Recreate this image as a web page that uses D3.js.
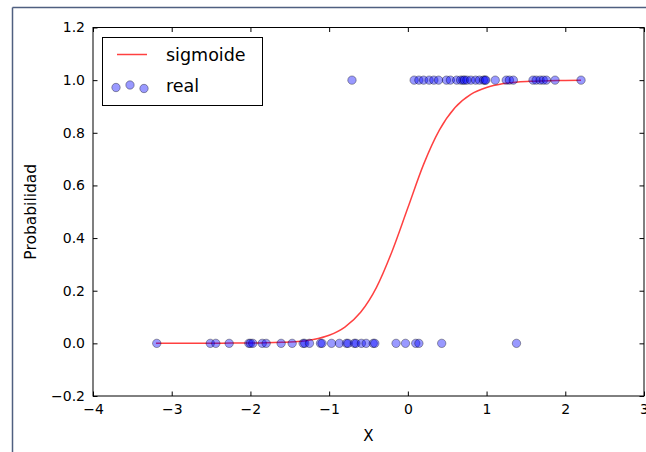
<!DOCTYPE html>
<html><head><meta charset="utf-8">
<script src="https://cdn.jsdelivr.net/npm/d3@7"></script>
<style>body{margin:0;background:#fff}svg{display:block}text{font-family:"DejaVu Sans",sans-serif;fill:#000}</style>
</head><body><svg id="c" width="646" height="452"></svg>
<script>
// data
const realX0 = [-3.19,-2.51,-2.44,-2.27,-2.02,-2.0,-1.97,-1.85,-1.80,-1.61,-1.47,-1.33,-1.31,-1.25,-1.11,-1.09,-0.97,-0.87,-0.78,-0.76,-0.68,-0.66,-0.59,-0.53,-0.44,-0.42,-0.15,-0.03,0.10,0.14,0.43,1.38];
const realX1 = [-0.71,0.08,0.14,0.20,0.27,0.33,0.39,0.49,0.54,0.62,0.67,0.70,0.72,0.75,0.80,0.86,0.91,0.96,0.98,0.99,1.11,1.25,1.29,1.34,1.59,1.63,1.68,1.72,1.76,1.87,2.20];
const curveX = [-3.2,-3.0,-2.6,-2.2,-2.0,-1.8,-1.6,-1.4,-1.2,-1.0,-0.8,-0.6,-0.4,-0.2,0,0.2,0.4,0.6,0.8,1.0,1.2,1.4,1.6,1.8,2.0,2.2];
const curveY = [0.000,0.000,0.000,0.001,0.001,0.002,0.004,0.007,0.015,0.031,0.062,0.118,0.212,0.350,0.515,0.680,0.810,0.896,0.946,0.972,0.986,0.993,0.996,0.998,0.999,0.9995];
const xTicks = [-4,-3,-2,-1,0,1,2,3];
const yTicks = [-0.2,0.0,0.2,0.4,0.6,0.8,1.0,1.2];

const svg = d3.select("#c");
const L=93, R=644, T=27.5, B=396;
const x = d3.scaleLinear().domain([-4,3]).range([L,R]);
const y = d3.scaleLinear().domain([-0.2,1.2]).range([B,T]);

// outer frame (notebook output border)
svg.append("line").attr("x1",12.5).attr("x2",12.5).attr("y1",7.5).attr("y2",452).attr("stroke","#4f5f80").attr("stroke-width",1.5);
svg.append("line").attr("x1",12.5).attr("x2",646).attr("y1",7.5).attr("y2",7.5).attr("stroke","#4f5f80").attr("stroke-width",1.5);

const g = svg.append("g");

// curve
const line = d3.line().x((d,i)=>x(curveX[i])).y(d=>y(d)).curve(d3.curveMonotoneX);
g.append("path").datum(curveY).attr("d",line).attr("fill","none").attr("stroke","#ff0000").attr("stroke-opacity",0.75).attr("stroke-width",1.5);

// scatter
const pts = realX0.map(v=>[v,0]).concat(realX1.map(v=>[v,1]));
g.selectAll("circle.p").data(pts).enter().append("circle")
  .attr("cx",d=>x(d[0])).attr("cy",d=>y(d[1])).attr("r",4.2)
  .attr("fill","#0000ff").attr("fill-opacity",0.4)
  .attr("stroke","#000").attr("stroke-opacity",0.35).attr("stroke-width",1);

// frame
g.append("rect").attr("x",L).attr("y",T).attr("width",R-L).attr("height",B-T).attr("fill","none").attr("stroke","#000").attr("stroke-width",1);

// axes with inward ticks
const xb = g.append("g").attr("transform",`translate(0,${B})`).call(d3.axisBottom(x).tickValues(xTicks).tickSizeInner(-4.5).tickSizeOuter(0).tickPadding(8).tickFormat(d=>d<0?"\u2212"+Math.abs(d):d));
const xt = g.append("g").attr("transform",`translate(0,${T})`).call(d3.axisTop(x).tickValues(xTicks).tickSizeInner(-4.5).tickSizeOuter(0).tickFormat(""));
const yl = g.append("g").attr("transform",`translate(${L},0)`).call(d3.axisLeft(y).tickValues(yTicks).tickSizeInner(-4.5).tickSizeOuter(0).tickPadding(8).tickFormat(d=>(d<0?"\u2212":"")+Math.abs(d).toFixed(1)));
const yr = g.append("g").attr("transform",`translate(${R},0)`).call(d3.axisRight(y).tickValues(yTicks).tickSizeInner(-4.5).tickSizeOuter(0).tickFormat(""));
[xb,xt,yl,yr].forEach(a=>{a.select(".domain").remove();a.selectAll("line").attr("stroke","#000");a.selectAll("text").attr("font-size",14).attr("font-family","DejaVu Sans").attr("fill","#000");});
xb.selectAll("text").attr("dy","0.71em");

// labels
svg.append("text").attr("x",(L+R)/2).attr("y",441).attr("text-anchor","middle").attr("font-size",15).text("X");
svg.append("text").attr("transform",`translate(36,${(T+B)/2}) rotate(-90)`).attr("text-anchor","middle").attr("font-size",15.5).text("Probabilidad");

// legend
const lg = svg.append("g");
lg.append("rect").attr("x",102.5).attr("y",37.5).attr("width",160).attr("height",68).attr("fill","#fff").attr("stroke","#000").attr("stroke-width",1);
lg.append("line").attr("x1",117).attr("x2",147).attr("y1",54.5).attr("y2",54.5).attr("stroke","#ff0000").attr("stroke-opacity",0.75).attr("stroke-width",1.5);
lg.append("text").attr("x",166).attr("y",54.5).attr("dy","0.35em").attr("font-size",17.5).text("sigmoide");
[[116,87.5],[130,85],[144,88.5]].forEach(p=>lg.append("circle").attr("cx",p[0]).attr("cy",p[1]).attr("r",4.2).attr("fill","#0000ff").attr("fill-opacity",0.4).attr("stroke","#000").attr("stroke-opacity",0.35));
lg.append("text").attr("x",166).attr("y",86).attr("dy","0.35em").attr("font-size",17.5).text("real");
</script></body></html>
